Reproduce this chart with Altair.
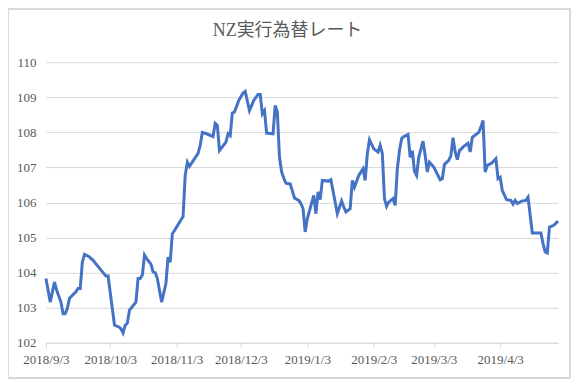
import altair as alt
import pandas as pd

dates = [
    "2018-09-03", "2018-09-05", "2018-09-07", "2018-09-08", "2018-09-10", "2018-09-11",
    "2018-09-12", "2018-09-13", "2018-09-14", "2018-09-17", "2018-09-18", "2018-09-19",
    "2018-09-20", "2018-09-21", "2018-09-23", "2018-09-25", "2018-09-27", "2018-09-29",
    "2018-10-01", "2018-10-02", "2018-10-05", "2018-10-07", "2018-10-08", "2018-10-09",
    "2018-10-10", "2018-10-11", "2018-10-12", "2018-10-15", "2018-10-16", "2018-10-17",
    "2018-10-18", "2018-10-19", "2018-10-20", "2018-10-22", "2018-10-23", "2018-10-24",
    "2018-10-25", "2018-10-27", "2018-10-29", "2018-10-30", "2018-10-31", "2018-11-01",
    "2018-11-02", "2018-11-06", "2018-11-07", "2018-11-08", "2018-11-09", "2018-11-13",
    "2018-11-14", "2018-11-15", "2018-11-17", "2018-11-20", "2018-11-21", "2018-11-22",
    "2018-11-23", "2018-11-26", "2018-11-27", "2018-11-28", "2018-11-29", "2018-11-30",
    "2018-12-02", "2018-12-04", "2018-12-05", "2018-12-07", "2018-12-09", "2018-12-11",
    "2018-12-12", "2018-12-13", "2018-12-14", "2018-12-15", "2018-12-18", "2018-12-19",
    "2018-12-20", "2018-12-21", "2018-12-22", "2018-12-23", "2018-12-24", "2018-12-26",
    "2018-12-28", "2018-12-30", "2018-12-31", "2019-01-01", "2019-01-02", "2019-01-03",
    "2019-01-06", "2019-01-07", "2019-01-08", "2019-01-09", "2019-01-10", "2019-01-13",
    "2019-01-14", "2019-01-17", "2019-01-19", "2019-01-20", "2019-01-21", "2019-01-23",
    "2019-01-24", "2019-01-25", "2019-01-27", "2019-01-29", "2019-01-30", "2019-01-31",
    "2019-02-01", "2019-02-03", "2019-02-05", "2019-02-06", "2019-02-07", "2019-02-08",
    "2019-02-09", "2019-02-10", "2019-02-12", "2019-02-13", "2019-02-14", "2019-02-15",
    "2019-02-16", "2019-02-17", "2019-02-19", "2019-02-20", "2019-02-21", "2019-02-22",
    "2019-02-23", "2019-02-24", "2019-02-26", "2019-02-27", "2019-02-28", "2019-03-01",
    "2019-03-03", "2019-03-05", "2019-03-06", "2019-03-07", "2019-03-08", "2019-03-10",
    "2019-03-11", "2019-03-12", "2019-03-13", "2019-03-14", "2019-03-15", "2019-03-17",
    "2019-03-19", "2019-03-20", "2019-03-21", "2019-03-24", "2019-03-25", "2019-03-26",
    "2019-03-27", "2019-03-28", "2019-03-30", "2019-04-01", "2019-04-02", "2019-04-03",
    "2019-04-04", "2019-04-06", "2019-04-08", "2019-04-09", "2019-04-10", "2019-04-11",
    "2019-04-13", "2019-04-15", "2019-04-16", "2019-04-18", "2019-04-20", "2019-04-22",
    "2019-04-23", "2019-04-24", "2019-04-25", "2019-04-26", "2019-04-28", "2019-04-30",
]

rates = [
    103.83, 103.16, 103.73, 103.50, 103.16, 102.83,
    102.83, 102.98, 103.27, 103.45, 103.55, 103.55,
    104.30, 104.52, 104.46, 104.35, 104.20, 104.05,
    103.90, 103.90, 102.50, 102.45, 102.40, 102.28,
    102.50, 102.56, 102.93, 103.16, 103.83, 103.83,
    103.93, 104.50, 104.40, 104.24, 104.02, 104.00,
    103.83, 103.16, 103.69, 104.44, 104.30, 105.11,
    105.20, 105.60, 106.77, 107.15, 107.03, 107.40,
    107.63, 108.00, 107.96, 107.88, 108.26, 108.20,
    107.48, 107.72, 107.96, 107.91, 108.55, 108.58,
    108.91, 109.12, 109.17, 108.62, 108.91, 109.08,
    109.08, 108.53, 108.62, 107.98, 107.96, 108.77,
    108.58, 107.29, 106.87, 106.70, 106.55, 106.53,
    106.13, 106.06, 105.97, 105.82, 105.16, 105.54,
    106.20, 105.68, 106.30, 106.08, 106.63, 106.61,
    106.65, 105.68, 106.04, 105.87, 105.73, 105.82,
    106.63, 106.44, 106.77, 106.96, 106.63, 107.39,
    107.79, 107.53, 107.44, 107.63, 107.39, 106.11,
    105.89, 106.01, 106.11, 105.92, 106.96, 107.48,
    107.82, 107.88, 107.94, 107.29, 107.48, 106.89,
    106.77, 107.29, 107.75, 107.34, 106.87, 107.15,
    107.01, 106.77, 106.65, 106.68, 107.09, 107.20,
    107.34, 107.85, 107.44, 107.22, 107.48, 107.60,
    107.69, 107.44, 107.86, 108.00, 108.15, 108.34,
    106.87, 107.06, 107.12, 107.25, 106.68, 106.72,
    106.34, 106.08, 106.06, 105.95, 106.06, 105.97,
    106.04, 106.06, 106.15, 105.13, 105.13, 105.13,
    104.83, 104.59, 104.56, 105.30, 105.35, 105.47,
]

x_ticks = ["2018-09-03", "2018-10-03", "2018-11-03", "2018-12-03",
           "2019-01-03", "2019-02-03", "2019-03-03", "2019-04-03"]
y_ticks = [102, 103, 104, 105, 106, 107, 108, 109, 110]
title_text = ["NZ実行為替レート"]

df = pd.DataFrame({"date": pd.to_datetime(dates), "rate": rates})

def dt(s):
    y, m, d = (int(p) for p in s.split("-"))
    return alt.DateTime(year=y, month=m, date=d)

W, H = 513, 281
serif = "Liberation Serif, Noto Sans CJK JP"
gray = "#595959"

line = alt.Chart(df).mark_line(color="#4472C4", strokeWidth=3).encode(
    x=alt.X("date:T",
            scale=alt.Scale(domain=[dt("2018-09-03"), dt("2019-04-30")], nice=False),
            axis=alt.Axis(values=[dt(s) for s in x_ticks], format="%Y/%-m/%-d",
                          title=None, grid=False, domainColor="#d9d9d9",
                          tickColor="#d9d9d9", tickSize=5, labelPadding=6,
                          labelFont=serif, labelFontSize=13, labelColor=gray,
                          labelOverlap=False, labelFlush=False)),
    y=alt.Y("rate:Q",
            scale=alt.Scale(domain=[102, 110], nice=False, zero=False),
            axis=alt.Axis(values=y_ticks, title=None, domain=False, ticks=False,
                          gridColor="#d9d9d9", labelPadding=10,
                          labelFont=serif, labelFontSize=13, labelColor=gray)),
)

frame = alt.Chart(df).mark_rect(fill=None, stroke="#d9d9d9", strokeWidth=1).encode(
    x=alt.value(-37.5), x2=alt.value(W + 12), y=alt.value(-53.5), y2=alt.value(H + 35)
)

title = alt.Chart(pd.DataFrame({"t": title_text})).mark_text(
    font=serif, fontSize=18, color=gray, align="center", baseline="alphabetic"
).encode(text="t:N", x=alt.value(242), y=alt.value(-26))

chart = alt.layer(frame, line, title).properties(
    width=W, height=H,
    autosize=alt.AutoSizeParams(type="none"),
    padding={"left": 38, "top": 54, "right": 13, "bottom": 38},
).configure_view(stroke=None)

chart.save("out.html", embed_options={"renderer": "svg", "actions": False})
